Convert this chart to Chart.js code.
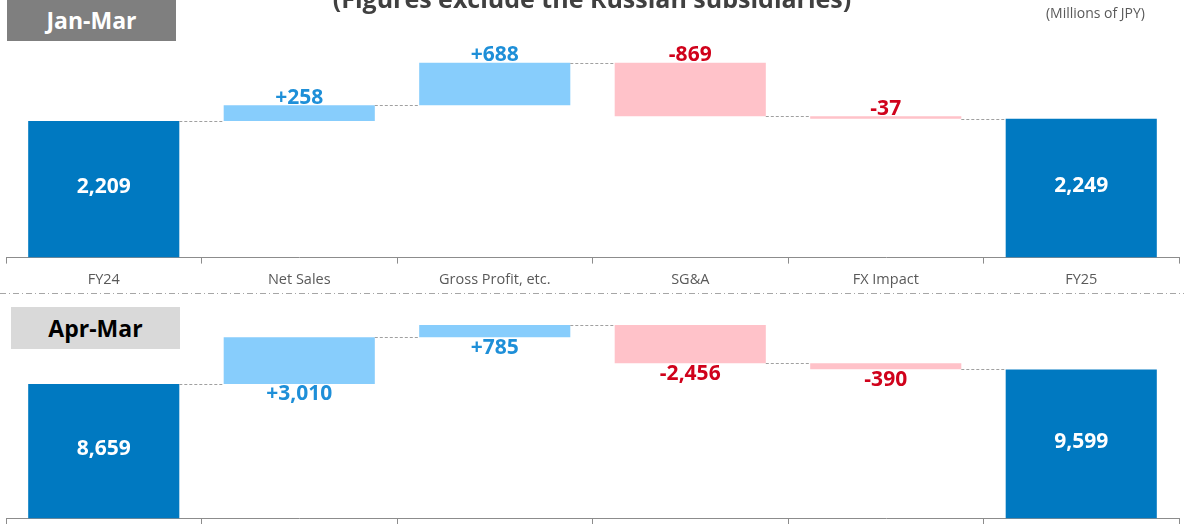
<!DOCTYPE html>
<html>
<head>
<meta charset="utf-8">
<script src="https://cdn.jsdelivr.net/npm/chart.js@4.4.1/dist/chart.umd.min.js"></script>
<style>
  html, body { margin: 0; padding: 0; background: #fff; overflow: hidden; }
  body { width: 1184px; height: 524px; position: relative; font-family: "Open Sans", "Noto Sans", sans-serif; }
  .wrap { position: absolute; left: 0; width: 1184px; }
  #topWrap { top: 0; height: 297px; }
  #botWrap { top: 296px; height: 262px; }
  .period { position: absolute; width: 169px; height: 41px; line-height: 41px; text-align: center; font-weight: bold; font-size: 23px; }
  #janMar { left: 7px; top: 0; background: #7f7f7f; color: #fff; }
  #aprMar { left: 11px; top: 307px; height: 42px; line-height: 42px; background: #d9d9d9; color: #000; }
  #title { position: absolute; left: 0; width: 1184px; top: -19px; text-align: center; font-weight: bold; font-size: 25px; color: #404040; }
  #unit { position: absolute; right: 39px; top: 3px; font-size: 14px; color: #595959; }
  #sep { position: absolute; left: 0; top: 292px; }
</style>
</head>
<body>
<div class="wrap" id="topWrap"><canvas id="chartTop" width="1184" height="297"></canvas></div>
<div class="wrap" id="botWrap"><canvas id="chartBot" width="1184" height="262"></canvas></div>
<svg id="sep" width="1184" height="3"><line x1="0" y1="1.5" x2="1184" y2="1.5" stroke="#a6a6a6" stroke-width="1" stroke-dasharray="6 3 1 3"/></svg>
<div id="title">(Figures exclude the Russian subsidiaries)</div>
<div id="unit">(Millions of JPY)</div>
<div class="period" id="janMar">Jan-Mar</div>
<div class="period" id="aprMar">Apr-Mar</div>
<script>
// 項目とデータ（百万円）
const categories = ['FY24', 'Net Sales', 'Gross Profit, etc.', 'SG&A', 'FX Impact', 'FY25'];
const janMarValues = [2209, 258, 688, -869, -37, 2249];
const aprMarValues = [8659, 3010, 785, -2456, -390, 9599];
const isTotal = [true, false, false, false, false, true];

const COL_TOTAL = '#0079c1';
const COL_UP = '#87cdfc';
const COL_DOWN = '#ffc2c9';
const TXT_UP = '#1e8fd8';
const TXT_DOWN = '#d0021b';

// 積み上げ用の [start, end] を作る
function toFloating(values) {
  let level = 0;
  return values.map((v, i) => {
    if (isTotal[i]) { level = v; return [0, v]; }
    const start = level;
    level += v;
    return [start, level];
  });
}

function fmt(v, total) {
  const s = Math.abs(v).toLocaleString('en-US');
  if (total) return s;
  return (v >= 0 ? '+' : '-') + s;
}

// 接続線と数値ラベル
const waterfallPlugin = {
  id: 'waterfall',
  afterDatasetsDraw(chart, args, opts) {
    const ctx = chart.ctx;
    const meta = chart.getDatasetMeta(0);
    const ds = chart.data.datasets[0];
    const y = chart.scales.y;
    ctx.save();
    ctx.strokeStyle = '#a0a0a0';
    ctx.lineWidth = 1;
    ctx.setLineDash([3, 2]);
    for (let i = 0; i < meta.data.length - 1; i++) {
      const a = meta.data[i], b = meta.data[i + 1];
      const py = Math.round(y.getPixelForValue(ds.data[i][1])) + 0.5;
      ctx.beginPath();
      ctx.moveTo(a.x + a.width / 2, py);
      ctx.lineTo(b.x - b.width / 2, py);
      ctx.stroke();
    }
    ctx.setLineDash([]);
    ctx.font = 'bold 21px "Open Sans", "Noto Sans", sans-serif';
    ctx.textAlign = 'center';
    meta.data.forEach((bar, i) => {
      const v = opts.values[i];
      const top = Math.min(bar.y, bar.base), bottom = Math.max(bar.y, bar.base);
      if (isTotal[i]) {
        ctx.fillStyle = '#fff';
        ctx.textBaseline = 'middle';
        ctx.fillText(fmt(v, true), bar.x, (top + bottom) / 2 - 2);
        return;
      }
      ctx.fillStyle = v >= 0 ? TXT_UP : TXT_DOWN;
      if (opts.place === 'above') {
        ctx.textBaseline = 'bottom';
        ctx.fillText(fmt(v, false), bar.x, top + 3);
      } else {
        ctx.textBaseline = 'top';
        ctx.fillText(fmt(v, false), bar.x, bottom);
      }
    });
    ctx.restore();
  }
};

function makeChart(id, values, yMax, padTop, padBottom, place) {
  const colors = values.map((v, i) => isTotal[i] ? COL_TOTAL : (v >= 0 ? COL_UP : COL_DOWN));
  return new Chart(document.getElementById(id), {
    type: 'bar',
    data: {
      labels: categories,
      datasets: [{
        data: toFloating(values),
        backgroundColor: colors,
        borderWidth: 0,
        categoryPercentage: 1,
        barPercentage: 0.773
      }]
    },
    options: {
      responsive: false,
      animation: false,
      devicePixelRatio: 1,
      layout: { padding: { left: 6, right: 5, top: padTop, bottom: padBottom } },
      plugins: {
        legend: { display: false },
        tooltip: { enabled: false },
        waterfall: { values: values, place: place }
      },
      scales: {
        x: {
          grid: { drawOnChartArea: false, drawTicks: true, tickLength: 6, color: '#8c8c8c' },
          border: { color: '#8c8c8c', width: 1 },
          ticks: { color: '#595959', padding: 8, font: { size: 14.5, family: '"Open Sans", "Noto Sans", sans-serif' } }
        },
        y: { display: false, min: 0, max: yMax }
      }
    },
    plugins: [waterfallPlugin]
  });
}

makeChart('chartTop', janMarValues, 3700, 29, 0, 'above');
makeChart('chartBot', aprMarValues, 14000, 5, 0, 'below');
</script>
</body>
</html>
